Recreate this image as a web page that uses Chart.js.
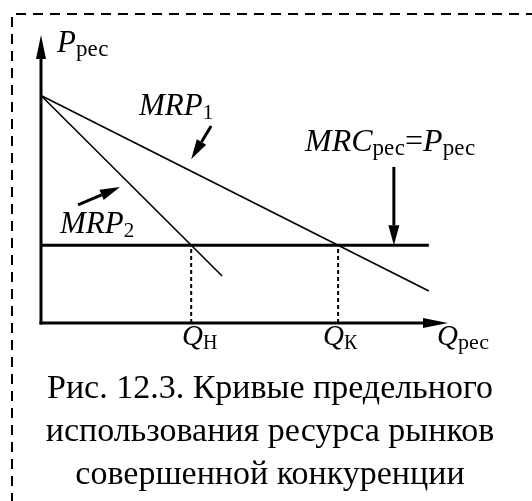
<!DOCTYPE html>
<html lang="ru">
<head>
<meta charset="utf-8">
<script src="https://cdn.jsdelivr.net/npm/chart.js@4/dist/chart.umd.min.js"></script>
<style>
  html, body { margin: 0; padding: 0; background: #fff; }
  #wrap { position: relative; width: 532px; height: 501px; overflow: hidden; }
  #plot { position: absolute; left: 0; top: 0; }
  .lbl {
    position: absolute; font-family: "Liberation Serif", "Times New Roman", serif;
    color: #000; line-height: 1; white-space: nowrap; font-size: 31px;
  }
  .lbl i { font-style: italic; }
  .lbl sub { font-size: 21px; vertical-align: -4px; line-height: 0; }
  .lbl sub.w { font-size: 23px; }
  .lbl.q { font-size: 29px; }
  .lbl.q sub { font-size: 20px; }
  .lbl.q sub.w { font-size: 22px; }
  #caption {
    position: absolute; left: 20px; top: 365px; width: 500px; text-align: center;
    font-family: "Liberation Serif", "Times New Roman", serif; font-size: 34px;
    line-height: 43px; color: #000; white-space: nowrap;
  }
</style>
</head>
<body>
<div id="wrap">
  <canvas id="plot" width="532" height="501"></canvas>
  <div class="lbl" style="left:57px; top:26px;"><i>P</i><sub class="w">рес</sub></div>
  <div class="lbl" style="left:139px; top:89px;"><i>MRP</i><sub>1</sub></div>
  <div class="lbl" style="left:60px; top:207px;"><i>MRP</i><sub>2</sub></div>
  <div class="lbl" style="left:305px; top:124px; font-size:32px;"><i>MRC</i><sub class="w">рес</sub>=<i>P</i><sub class="w">рес</sub></div>
  <div class="lbl q" style="left:182px; top:321px;"><i>Q</i><sub>Н</sub></div>
  <div class="lbl q" style="left:323px; top:321px;"><i>Q</i><sub>К</sub></div>
  <div class="lbl q" style="left:437px; top:321px;"><i>Q</i><sub class="w">рес</sub></div>
  <div id="caption">Рис. 12.3. Кривые предельного<br>использования ресурса рынков<br>совершенной конкуренции</div>
</div>
<script>
// Demand curves for the resource (Q, P in arbitrary units, axes run 0..10)
const mrp1Q = [0, 9.53];
const mrp1P = [7.9, 1.11];
const mrp2Q = [0, 4.45];
const mrp2P = [7.9, 1.63];
const mrcQ = [0, 9.53];
const mrcP = [2.7, 2.7];
// Equilibrium quantities: non-competitive (Н) and competitive (К)
const eqQ = [3.69, 7.3];
const eqP = 2.7;

// Pointer arrows to the curve labels: [fromQ, fromP, toQ, toP]
const pointers = [
    [4.18, 6.84, 3.69, 5.69],
    [0.91, 4.10, 1.94, 4.72],
    [8.67, 5.42, 8.67, 2.7]
];

const toPoints = (qs, ps) => qs.map((q, i) => ({ x: q, y: ps[i] }));

function drawArrow(ctx, x1, y1, x2, y2, len, half, lw) {
    const a = Math.atan2(y2 - y1, x2 - x1);
    const bx = x2 - len * Math.cos(a);
    const by = y2 - len * Math.sin(a);
    ctx.lineWidth = lw;
    ctx.beginPath();
    ctx.moveTo(x1, y1);
    ctx.lineTo(bx, by);
    ctx.stroke();
    ctx.beginPath();
    ctx.moveTo(x2, y2);
    ctx.lineTo(bx + half * Math.sin(a), by - half * Math.cos(a));
    ctx.lineTo(bx - half * Math.sin(a), by + half * Math.cos(a));
    ctx.closePath();
    ctx.fill();
}

// Dashed frame, axes with arrow heads and label pointers
const decor = {
    id: 'decor',
    beforeDraw(chart) {
        const ctx = chart.ctx;
        ctx.save();
        ctx.strokeStyle = '#000';
        ctx.lineWidth = 2;
        ctx.setLineDash([10, 7]);
        ctx.beginPath();
        ctx.moveTo(12, 520);
        ctx.lineTo(12, 14);
        ctx.lineTo(540, 14);
        ctx.stroke();
        ctx.restore();
    },
    afterDatasetsDraw(chart) {
        const ctx = chart.ctx;
        const { left, right, top, bottom } = chart.chartArea;
        const sx = chart.scales.x, sy = chart.scales.y;
        ctx.save();
        ctx.strokeStyle = '#000';
        ctx.fillStyle = '#000';
        ctx.lineCap = 'butt';
        drawArrow(ctx, left, bottom + 1.5, left, top, 24, 5, 3);
        drawArrow(ctx, left - 1.5, bottom, right, bottom, 25, 5, 3);
        pointers.forEach(p => {
            drawArrow(ctx, sx.getPixelForValue(p[0]), sy.getPixelForValue(p[1]),
                sx.getPixelForValue(p[2]), sy.getPixelForValue(p[3]), 20, 5.5, 3);
        });
        ctx.restore();
    }
};

const datasets = [
    { data: toPoints(mrp1Q, mrp1P), borderWidth: 1.6 },
    { data: toPoints(mrp2Q, mrp2P), borderWidth: 1.6 },
    { data: toPoints(mrcQ, mrcP), borderWidth: 3 }
];
eqQ.forEach(q => {
    datasets.push({ data: [{ x: q, y: 0 }, { x: q, y: eqP }], borderWidth: 2, borderDash: [4, 3] });
});
datasets.forEach(d => {
    d.showLine = true;
    d.borderColor = '#000';
    d.pointRadius = 0;
    d.clip = false;
});

new Chart(document.getElementById('plot'), {
    type: 'scatter',
    data: { datasets },
    options: {
        responsive: false,
        animation: false,
        events: [],
        layout: { padding: { left: 41, top: 35, right: 84, bottom: 178 } },
        plugins: { legend: { display: false }, tooltip: { enabled: false } },
        scales: {
            x: { type: 'linear', min: 0, max: 10, display: false },
            y: { type: 'linear', min: 0, max: 10, display: false }
        }
    },
    plugins: [decor]
});
</script>
</body>
</html>
